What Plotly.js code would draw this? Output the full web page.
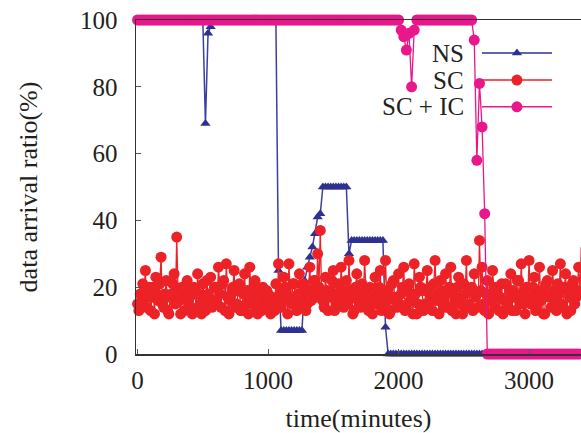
<!DOCTYPE html>
<html>
<head>
<meta charset="utf-8">
<script src="https://cdn.plot.ly/plotly-3.0.1.min.js"></script>
<style>html,body{margin:0;padding:0;background:#fff;}#chart{width:581px;height:433px;}</style>
</head>
<body>
<div id="chart"></div>
<script>
// time in minutes (NS and SC + IC sampled every 20 min)
const time = [
0,20,40,60,80,100,120,140,160,180,200,220,240,260,280,300,320,340,360,380,
400,420,440,460,480,500,520,540,560,580,600,620,640,660,680,700,720,740,760,780,
800,820,840,860,880,900,920,940,960,980,1000,1020,1040,1060,1080,1100,1120,1140,1160,1180,
1200,1220,1240,1260,1280,1300,1320,1340,1360,1380,1400,1420,1440,1460,1480,1500,1520,1540,1560,1580,
1600,1620,1640,1660,1680,1700,1720,1740,1760,1780,1800,1820,1840,1860,1880,1900,1920,1940,1960,1980,
2000,2020,2040,2060,2080,2100,2120,2140,2160,2180,2200,2220,2240,2260,2280,2300,2320,2340,2360,2380,
2400,2420,2440,2460,2480,2500,2520,2540,2560,2580,2600,2620,2640,2660,2680,2700,2720,2740,2760,2780,
2800,2820,2840,2860,2880,2900,2920,2940,2960,2980,3000,3020,3040,3060,3080,3100,3120,3140,3160,3180,
3200,3220,3240,3260,3280,3300,3320,3340,3360,3380,3400];

// time in minutes for SC (sampled every 10 min)
const timeSC = [
0,10,20,30,40,50,60,70,80,90,100,110,120,130,140,150,160,170,180,190,
200,210,220,230,240,250,260,270,280,290,300,310,320,330,340,350,360,370,380,390,
400,410,420,430,440,450,460,470,480,490,500,510,520,530,540,550,560,570,580,590,
600,610,620,630,640,650,660,670,680,690,700,710,720,730,740,750,760,770,780,790,
800,810,820,830,840,850,860,870,880,890,900,910,920,930,940,950,960,970,980,990,
1000,1010,1020,1030,1040,1050,1060,1070,1080,1090,1100,1110,1120,1130,1140,1150,1160,1170,1180,1190,
1200,1210,1220,1230,1240,1250,1260,1270,1280,1290,1300,1310,1320,1330,1340,1350,1360,1370,1380,1390,
1400,1410,1420,1430,1440,1450,1460,1470,1480,1490,1500,1510,1520,1530,1540,1550,1560,1570,1580,1590,
1600,1610,1620,1630,1640,1650,1660,1670,1680,1690,1700,1710,1720,1730,1740,1750,1760,1770,1780,1790,
1800,1810,1820,1830,1840,1850,1860,1870,1880,1890,1900,1910,1920,1930,1940,1950,1960,1970,1980,1990,
2000,2010,2020,2030,2040,2050,2060,2070,2080,2090,2100,2110,2120,2130,2140,2150,2160,2170,2180,2190,
2200,2210,2220,2230,2240,2250,2260,2270,2280,2290,2300,2310,2320,2330,2340,2350,2360,2370,2380,2390,
2400,2410,2420,2430,2440,2450,2460,2470,2480,2490,2500,2510,2520,2530,2540,2550,2560,2570,2580,2590,
2600,2610,2620,2630,2640,2650,2660,2670,2680,2690,2700,2710,2720,2730,2740,2750,2760,2770,2780,2790,
2800,2810,2820,2830,2840,2850,2860,2870,2880,2890,2900,2910,2920,2930,2940,2950,2960,2970,2980,2990,
3000,3010,3020,3030,3040,3050,3060,3070,3080,3090,3100,3110,3120,3130,3140,3150,3160,3170,3180,3190,
3200,3210,3220,3230,3240,3250,3260,3270,3280,3290,3300,3310,3320,3330,3340,3350,3360,3370,3380,3390,3400];

const ns = [
100,100,100,100,100,100,100,100,100,100,100,100,100,100,100,100,100,100,100,100,
100,100,100,100,100,100,69,96,98,100,100,100,100,100,100,100,100,100,100,100,
100,100,100,100,100,100,100,100,100,100,100,100,100,100,25,7,7,7,7,7,
7,7,7,7,22,26,29,32,36,41,42,50,50,50,50,50,50,50,50,50,
50,30,34,34,34,34,34,34,34,34,34,34,34,34,34,8,0,0,0,0,
0,0,0,0,0,0,0,0,0,0,0,0,0,0,0,0,0,0,0,0,
0,0,0,0,0,0,0,0,0,0,0,0,0,0,0,0,0,0,0,0,
0,0,0,0,0,0,0,0,0,0,0,0,0,0,0,0,0,0,0,0,
0,0,0,0,0,0,0,0,0,0,0];

const sc = [
15,13,18,16,21,19,25,14,17,20,13,17,20,12,23,18,16,21,29,15,
14,18,22,13,12,17,18,21,24,15,35,19,16,12,20,17,13,19,22,16,
17,14,12,20,19,13,24,18,15,12,21,17,13,22,18,15,23,14,16,20,
20,15,26,18,14,21,22,13,27,17,12,16,18,20,25,14,15,19,21,13,
13,18,24,15,19,12,26,17,15,20,22,14,12,18,17,13,20,16,14,19,
18,15,12,17,16,13,21,14,27,18,14,16,23,20,19,12,27,17,15,21,
21,16,13,18,24,14,17,21,20,13,15,19,26,16,19,22,22,17,30,20,
37,18,16,14,23,19,13,17,19,22,25,13,15,18,21,16,26,19,14,17,
22,15,28,19,17,12,13,20,24,16,18,14,21,17,28,19,15,13,20,16,
12,18,23,15,17,20,25,13,14,19,28,16,19,12,13,21,22,17,16,14,
24,15,18,20,26,13,14,19,21,16,17,12,27,18,12,15,23,20,19,13,
15,19,25,14,20,17,13,21,28,16,18,12,22,19,16,14,24,18,14,20,
26,13,19,16,12,20,23,15,17,12,21,18,28,14,15,19,20,13,24,17,
18,14,34,19,26,15,13,18,22,12,18,16,25,20,14,17,20,13,17,21,
12,16,21,14,16,19,24,13,19,17,13,22,22,15,27,18,15,12,20,17,
28,15,17,20,23,13,14,18,26,16,19,12,12,21,22,17,18,14,25,19,
16,13,21,18,27,15,14,20,24,12,19,17,13,21,22,15,17,19,26,18,32];

const scic = [
100,100,100,100,100,100,100,100,100,100,100,100,100,100,100,100,100,100,100,100,
100,100,100,100,100,100,100,100,100,100,100,100,100,100,100,100,100,100,100,100,
100,100,100,100,100,100,100,100,100,100,100,100,100,100,100,100,100,100,100,100,
100,100,100,100,100,100,100,100,100,100,100,100,100,100,100,100,100,100,100,100,
100,100,100,100,100,100,100,100,100,100,100,100,100,100,100,100,100,100,100,100,
100,97,95,91,96,80,97,100,100,100,100,100,100,100,100,100,100,100,100,100,
100,100,100,100,100,100,100,100,100,94,58,81,68,42,0,0,0,0,0,0,
0,0,0,0,0,0,0,0,0,0,0,0,0,0,0,0,0,0,0,0,
0,0,0,0,0,0,0,0,0,0,0];

const seriesNames = ['NS', 'SC', 'SC + IC'];
const xTicks = [0, 1000, 2000, 3000];
const yTicks = [0, 20, 40, 60, 80, 100];

const BLUE = '#2e3192', RED = '#ec2227', MAG = '#e9168c';
const FONT = 'Liberation Serif, Times New Roman, serif';

const traces = [
  {x: time, y: ns, name: seriesNames[0], mode: 'lines+markers', cliponaxis: false,
   line: {color: '#3b40a0', width: 1.5}, marker: {symbol: 'triangle-up', size: 9, color: BLUE}},
  {x: timeSC, y: sc, name: seriesNames[1], mode: 'lines+markers', cliponaxis: false,
   line: {color: RED, width: 1.3}, marker: {symbol: 'circle', size: 11, color: RED}},
  {x: time, y: scic, name: seriesNames[2], mode: 'lines+markers', cliponaxis: false,
   line: {color: MAG, width: 1.3}, marker: {symbol: 'circle', size: 11, color: MAG}}
];

// manual legend (text left of sample) on an overlay 0..1 axis pair
const legY = [0.901, 0.820, 0.740];
const legCols = [BLUE, RED, MAG];
const legSym = ['triangle-up', 'circle', 'circle'];
const legSize = [9, 11, 11];
const annotations = [];
for (let k = 0; k < 3; k++) {
  traces.push({x: [0.7775, 0.9348], y: [legY[k], legY[k]], xaxis: 'x2', yaxis: 'y2',
    mode: 'lines', line: {color: legCols[k], width: 1.5}, showlegend: false, hoverinfo: 'skip', cliponaxis: false});
  traces.push({x: [0.856], y: [legY[k]], xaxis: 'x2', yaxis: 'y2', mode: 'markers',
    marker: {symbol: legSym[k], size: legSize[k], color: legCols[k]}, showlegend: false, hoverinfo: 'skip', cliponaxis: false});
  annotations.push({xref: 'paper', yref: 'paper', x: 0.7416, y: legY[k], xanchor: 'right', yanchor: 'middle',
    text: seriesNames[k], showarrow: false, font: {family: FONT, size: 25, color: '#231f20'}});
}

const layout = {
  width: 581, height: 433,
  margin: {l: 136, r: 0, t: 20, b: 79},
  paper_bgcolor: '#fff', plot_bgcolor: '#fff',
  showlegend: false,
  font: {family: FONT, size: 25, color: '#231f20'},
  xaxis: {range: [-12, 3398], tickvals: xTicks, ticktext: xTicks.map(String),
    ticks: 'inside', ticklen: 5, tickcolor: '#555', tickwidth: 1,
    showline: true, linecolor: '#333', linewidth: 1.5, mirror: true,
    showgrid: false, zeroline: false, ticklabelstandoff: 3,
    title: {text: 'time(minutes)', font: {family: FONT, size: 26}, standoff: 33}},
  yaxis: {range: [0, 100], tickvals: yTicks, ticktext: yTicks.map(String),
    ticks: 'inside', ticklen: 5, tickcolor: '#555', tickwidth: 1,
    showline: true, linecolor: '#333', linewidth: 1.5,
    showgrid: false, zeroline: false, ticklabelstandoff: 12,
    title: {text: 'data arrival ratio(%)', font: {family: FONT, size: 26}, standoff: 35}},
  xaxis2: {overlaying: 'x', range: [0, 1], visible: false, fixedrange: true},
  yaxis2: {overlaying: 'y', range: [0, 1], visible: false, fixedrange: true},
  annotations: annotations
};

Plotly.newPlot('chart', traces, layout, {staticPlot: true, displayModeBar: false});
</script>
</body>
</html>
